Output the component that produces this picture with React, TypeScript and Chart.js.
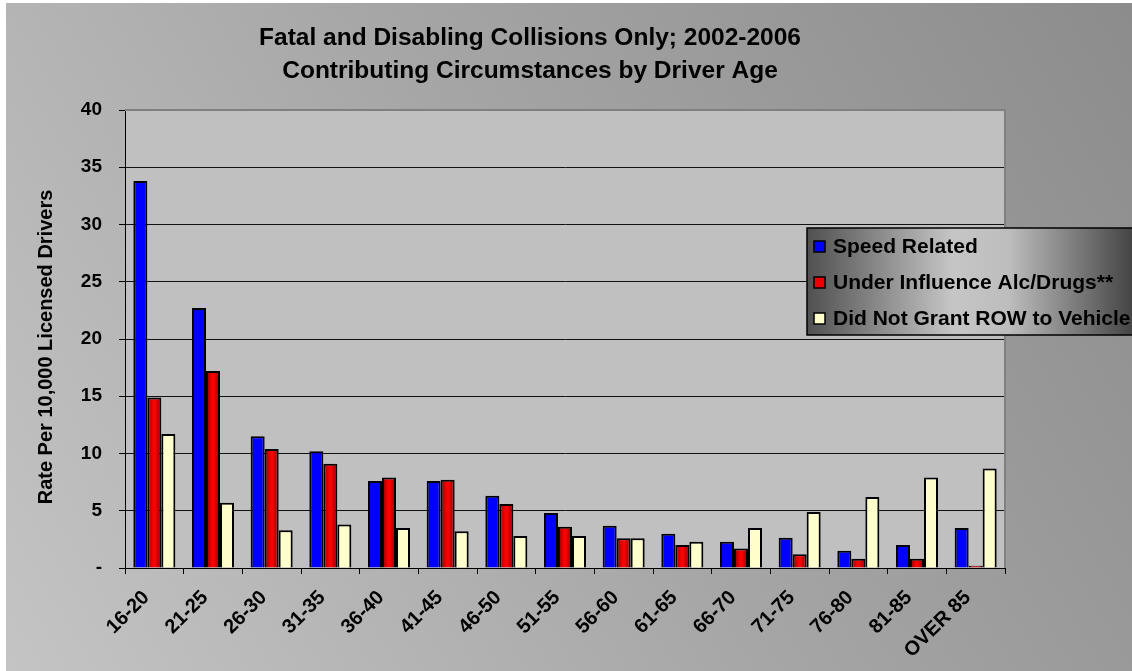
import React, { useEffect, useRef } from "react";
import { Chart, registerables } from "chart.js";

Chart.register(...registerables);

const categories = ["16-20", "21-25", "26-30", "31-35", "36-40", "41-45", "46-50", "51-55", "56-60", "61-65", "66-70", "71-75", "76-80", "81-85", "OVER 85"];
const speedRelated = [33.8, 22.7, 11.5, 10.2, 7.6, 7.6, 6.3, 4.8, 3.7, 3.0, 2.3, 2.65, 1.5, 2.0, 3.5];
const underInfluence = [14.9, 17.2, 10.4, 9.1, 7.9, 7.7, 5.6, 3.6, 2.6, 2.0, 1.7, 1.2, 0.8, 0.8, 0.2];
const didNotGrantRow = [11.7, 5.7, 3.3, 3.8, 3.5, 3.2, 2.8, 2.8, 2.6, 2.3, 3.5, 4.9, 6.2, 7.9, 8.7];
const seriesLabels = ["Speed Related", "Under Influence Alc/Drugs**", "Did Not Grant ROW to Vehicle"];
const titleLines = ["Fatal and Disabling Collisions Only; 2002-2006", "Contributing Circumstances by Driver Age"];
const yAxisTitle = "Rate Per 10,000 Licensed Drivers";
const yMin = 0;
const yMax = 40;
const yStep = 5;

const FONT = "'Liberation Sans', Arial, sans-serif";
const CAT_PCT = 0.716;

const decorPlugin = {
  id: "decor",
  beforeDraw(chart: any) {
    const { ctx, width, height, chartArea } = chart;
    ctx.save();
    ctx.fillStyle = "#ffffff";
    ctx.fillRect(0, 0, width, height);
    const g = ctx.createLinearGradient(6, height, width, 3);
    g.addColorStop(0, "#c4c4c4");
    g.addColorStop(0.5, "#a6a6a6");
    g.addColorStop(1, "#8c8c8c");
    ctx.fillStyle = g;
    ctx.fillRect(6, 3, width - 6, height - 3);
    ctx.fillStyle = "#c0c0c0";
    ctx.fillRect(chartArea.left, chartArea.top, chartArea.right - chartArea.left, chartArea.bottom - chartArea.top);
    ctx.restore();
  },
  beforeDatasetsDraw(chart: any) {
    const { ctx, chartArea } = chart;
    ctx.save();
    ctx.strokeStyle = "#808080";
    ctx.lineWidth = 2;
    ctx.beginPath();
    ctx.moveTo(chartArea.left, chartArea.top);
    ctx.lineTo(chartArea.right, chartArea.top);
    ctx.lineTo(chartArea.right, chartArea.bottom);
    ctx.stroke();
    ctx.restore();
  },
  afterDraw(chart: any) {
    const { ctx } = chart;
    ctx.save();
    // title
    ctx.fillStyle = "#000";
    ctx.textAlign = "center";
    ctx.textBaseline = "middle";
    ctx.font = `bold 24.5px ${FONT}`;
    ctx.fillText(titleLines[0], 530, 38);
    ctx.fillText(titleLines[1], 530, 71);
    // y axis title
    ctx.save();
    ctx.translate(46, 347);
    ctx.rotate(-Math.PI / 2);
    ctx.font = `bold 20px ${FONT}`;
    ctx.fillText(yAxisTitle, 0, 0);
    ctx.restore();
    // legend
    const lx = 807, ly = 228, lw = 340, lh = 107;
    const lg = ctx.createLinearGradient(lx, 0, 1132, 0);
    lg.addColorStop(0, "#505050");
    lg.addColorStop(0.45, "#c6c6c6");
    lg.addColorStop(0.62, "#bdbdbd");
    lg.addColorStop(1, "#454545");
    ctx.fillStyle = lg;
    ctx.fillRect(lx, ly, lw, lh);
    ctx.strokeStyle = "#000";
    ctx.lineWidth = 1.5;
    ctx.strokeRect(lx, ly, lw, lh);
    const rows = [246, 282, 318];
    chart.data.datasets.forEach((ds: any, i: number) => {
      const y = rows[i];
      ctx.fillStyle = ds.legendColor;
      ctx.fillRect(814, y - 5, 11, 11);
      ctx.strokeStyle = "#000";
      ctx.lineWidth = 1.5;
      ctx.strokeRect(814, y - 5, 11, 11);
      ctx.fillStyle = "#000";
      ctx.textAlign = "left";
      ctx.textBaseline = "middle";
      ctx.font = `bold 21px ${FONT}`;
      ctx.fillText(ds.label, 833, y + 1);
    });
    ctx.restore();
  },
};

function redGradient(c: any) {
  const chart = c.chart;
  const xs = chart.scales && chart.scales.x;
  if (!xs || c.dataIndex == null || !isFinite(xs.width) || xs.width <= 0) return "#ff0000";
  const center = xs.getPixelForValue(c.dataIndex);
  const w = (xs.width / categories.length) * CAT_PCT / 3;
  const g = chart.ctx.createLinearGradient(center - w / 2, 0, center + w / 2, 0);
  g.addColorStop(0, "#8a0000");
  g.addColorStop(0.45, "#ff0000");
  g.addColorStop(0.55, "#ff0000");
  g.addColorStop(1, "#8a0000");
  return g;
}

export default function App() {
  const ref = useRef<HTMLCanvasElement>(null);
  useEffect(() => {
    if (!ref.current) return;
    const chart = new Chart(ref.current, {
      type: "bar",
      data: {
        labels: categories,
        datasets: [
          { label: seriesLabels[0], data: speedRelated, backgroundColor: "#0000ff", legendColor: "#0000ff", borderColor: "#000", borderWidth: 2 } as any,
          { label: seriesLabels[1], data: underInfluence, backgroundColor: redGradient, legendColor: "#ee0000", borderColor: "#000", borderWidth: 2 } as any,
          { label: seriesLabels[2], data: didNotGrantRow, backgroundColor: "#ffffcc", legendColor: "#ffffcc", borderColor: "#000", borderWidth: 2 } as any,
        ],
      },
      options: {
        animation: false,
        responsive: false,
        devicePixelRatio: 1,
        layout: { padding: { top: 110, right: 127, left: 0, bottom: 0 } },
        datasets: { bar: { categoryPercentage: CAT_PCT, barPercentage: 1 } },
        plugins: {
          legend: { display: false },
          title: { display: false },
          tooltip: { enabled: false },
        },
        scales: {
          x: {
            afterFit: (s: any) => { s.height = 103; },
            grid: { offset: true, drawOnChartArea: false, drawTicks: true, tickLength: 6, tickColor: "#000", tickWidth: 1 },
            border: { color: "#000", width: 1 },
            ticks: {
              autoSkip: false,
              minRotation: 45,
              maxRotation: 45,
              color: "#000",
              font: { family: FONT, size: 20, weight: "bold" },
              padding: 12,
              labelOffset: -8,
            },
          },
          y: {
            min: yMin,
            max: yMax,
            afterFit: (s: any) => { s.width = 125; },
            grid: {
              color: (c: any) => (c.tick && c.tick.value === yMax ? "rgba(0,0,0,0)" : "#111"),
              lineWidth: 1,
              tickColor: "#000",
              tickLength: 6,
            },
            border: { color: "#000", width: 1 },
            ticks: {
              stepSize: yStep,
              color: "#000",
              padding: 17,
              font: { family: FONT, size: 19, weight: "bold" },
              callback: (v: any) => (v === 0 ? "-" : String(v)),
            },
          },
        },
      } as any,
      plugins: [decorPlugin],
    });
    return () => chart.destroy();
  }, []);
  return (
    <div style={{ position: "absolute", left: 0, top: 0, width: 1132, height: 671 }}>
      <canvas ref={ref} width={1132} height={671} style={{ display: "block" }} />
    </div>
  );
}
